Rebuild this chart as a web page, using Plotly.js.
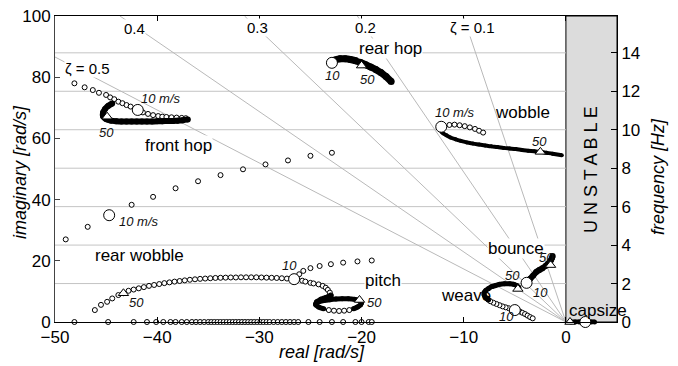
<!DOCTYPE html>
<html><head><meta charset="utf-8">
<script src="https://cdn.plot.ly/plotly-3.0.1.min.js"></script>
<style>html,body{margin:0;padding:0;background:#fff}#chart{width:678px;height:366px}</style>
</head><body><div id="chart"></div>
<script>
// ---------- data (real part, imaginary part in rad/s) ----------
const zetaValues = [0.5, 0.4, 0.3, 0.2, 0.1];
const zetaLabels = ['ζ = 0.5', '0.4', '0.3', '0.2', 'ζ = 0.1'];
const freqTicksHz = [0, 2, 4, 6, 8, 10, 12, 14];
const xTicks = [-50, -40, -30, -20, -10, 0];

const frontHopRe = [-48.1,-47.1,-46.3,-45.7,-45.0,-44.6,-44.2,-43.8,-43.4,-43.0,-42.6,-41.4,-40.9,-40.4,-39.9,-39.5,-39.1,-38.6,-38.1,-37.6,-37.2];
const frontHopIm = [78.0,76.7,75.8,74.9,74.2,73.4,72.8,72.0,71.5,70.9,70.4,68.5,68.0,67.6,67.3,67.1,67.0,66.9,66.8,66.7,66.6];
const frontHopDenseRe = [-37.0,-37.5,-38.0,-38.5,-39.0,-39.5,-40.0,-40.5,-41.0,-41.5,-42.0,-42.5,-43.0,-43.5,-44.0,-44.5,-45.0,-45.3,-45.3,-45.1,-44.8,-44.4];
const frontHopDenseIm = [66.2,65.9,65.8,65.7,65.7,65.6,65.6,65.5,65.5,65.5,65.5,65.5,65.5,65.5,65.6,65.8,66.3,67.2,68.4,69.6,70.6,71.4];

const rearHopRe = [-22.9,-22.6,-22.1,-21.6,-21.1,-20.6,-20.1,-19.6,-19.1,-18.6,-18.1,-17.6,-17.1];
const rearHopIm = [84.7,85.6,86.0,86.0,85.8,85.4,84.8,84.1,83.3,82.5,81.5,80.2,78.6];

const wobbleUpperRe = [-11.4,-10.9,-10.4,-9.9,-9.4,-8.9,-8.5,-8.1];
const wobbleUpperIm = [64.4,64.5,64.3,64.0,63.6,63.1,62.5,61.9];
const wobbleLowerRe = [-12.3,-12.1,-11.7,-11.3,-10.8,-10.3,-9.7,-9.1,-8.5,-7.9,-7.3,-6.7,-6.1,-5.5,-4.9,-4.3,-3.7,-3.1,-2.5,-1.9,-1.3,-0.4];
const wobbleLowerIm = [62.9,61.9,61.0,60.3,59.7,59.2,58.7,58.3,58.0,57.7,57.4,57.2,56.9,56.7,56.5,56.2,56.0,55.8,55.6,55.3,55.0,54.5];

const rearWobbleUpperRe = [-48.95,-46.8,-42.5,-40.4,-38.2,-36.0,-33.8,-31.6,-29.4,-27.2,-25.0,-22.9];
const rearWobbleUpperIm = [27.0,31.1,38.3,40.9,43.7,46.0,48.0,49.9,51.5,52.8,54.3,55.3];
const rearWobbleLowerRe = [-46.1,-45.5,-44.9,-44.4,-43.8,-43.3,-42.8,-42.3,-41.8,-41.3,-40.8,-40.3,-39.8,-39.3,-38.8,-38.3,-37.8,-37.3,-36.8,-36.3,-35.8,-35.3,-34.8,-34.3,-33.8,-33.3,-32.8,-32.3,-31.8,-31.3,-30.8,-30.3,-29.8,-29.3,-28.8,-28.3,-27.8,-27.3,-26.8];
const rearWobbleLowerIm = [3.9,5.6,6.6,7.7,8.8,9.4,10.2,10.6,11.0,11.4,11.8,12.1,12.4,12.7,12.95,13.2,13.4,13.6,13.8,13.95,14.1,14.2,14.3,14.4,14.45,14.5,14.55,14.55,14.6,14.6,14.6,14.6,14.55,14.5,14.45,14.4,14.3,14.2,14.1];

const lowBranchRe = [-26.1,-25.7,-25.0,-24.1,-23.0,-21.8,-20.4,-19.0];
const lowBranchIm = [15.6,16.7,17.6,18.3,18.9,19.4,19.8,20.1];

const pitchSRe = [-25.8,-25.5,-25.0,-24.7,-24.2,-23.8,-23.5,-23.3,-23.1,-23.0];
const pitchSIm = [13.5,13.2,12.8,12.6,12.3,11.8,11.2,10.5,9.6,8.7];
const pitchLoopRe = [-23.0,-23.5,-24.0,-24.4,-24.5,-24.2,-23.7];
const pitchLoopIm = [8.7,8.0,7.4,6.6,5.7,4.9,4.3];
const pitchBottomRe = [-23.2,-22.7,-22.2,-21.7,-21.2];
const pitchBottomIm = [3.9,3.7,3.6,3.7,3.9];
const pitchEndRe = [-20.8,-20.4,-20.1,-20.0,-20.2,-20.7,-21.3,-21.9,-22.5,-23.1,-23.7,-24.2];
const pitchEndIm = [4.3,4.9,5.6,6.3,7.0,7.4,7.6,7.6,7.5,7.3,7.0,6.6];

const realAxisRe = [-48.1,-44.8,-42.3,-41.0,-40.1,-39.4,-38.7,-38.2,-37.6,-37.1,-36.6,-36.2,-35.8,-35.4,-35.0,-34.7,-34.4,-34.1,-33.8,-33.5,-33.2,-32.9,-32.6,-32.3,-32.0,-31.7,-31.4,-31.1,-30.8,-30.5,-30.2,-29.9,-29.6,-29.3,-29.0,-28.6,-28.2,-27.8,-27.4,-27.0,-26.6,-26.2,-25.2,-24.1,-22.9,-21.8,-20.6,-20.0,-19.3,-19.0];
const realAxisIm = [0,0,0,0,0,0,0,0,0,0,0,0,0,0,0,0,0,0,0,0,0,0,0,0,0,0,0,0,0,0,0,0,0,0,0,0,0,0,0,0,0,0,0,0,0,0,0,0,0,0];

const weaveLowRe = [-4.5,-4.25,-4.0,-3.75,-3.5,-3.25];
const weaveLowIm = [3.4,3.0,2.6,2.1,1.6,1.2];
const weaveChainRe = [-5.3,-5.6,-5.9,-6.2,-6.5,-6.8,-7.1,-7.4,-7.6];
const weaveChainIm = [4.2,4.5,4.8,5.1,5.5,5.9,6.3,6.8,7.3];
const weaveArcRe = [-7.6,-7.85,-8.0,-8.0,-7.85,-7.6,-7.3,-6.9,-6.5,-6.0,-5.5,-5.1,-4.8,-4.6];
const weaveArcIm = [7.3,8.0,8.8,9.6,10.3,10.9,11.5,11.9,12.3,12.5,12.5,12.3,11.9,11.3];

const bounceRe = [-3.7,-3.5,-3.2,-2.9,-2.6,-2.3,-2.0,-1.8,-1.6,-1.45,-1.35,-1.3];
const bounceIm = [13.2,14.1,15.2,16.3,17.0,17.6,18.3,18.9,19.6,20.3,21.0,21.6];

const capsizeRe = [0.5,0.9,1.3,1.7,2.1,2.5,2.8];
const capsizeIm = [0,0,0,0,0,0,0];

// 10 m/s (large circles) and 50 m/s (triangles)
const speed10Re = [-41.9,-22.9,-12.2,-44.7,-26.6,-5.0,-3.85,1.9];
const speed10Im = [69.3,84.7,63.8,34.9,14.0,3.9,12.8,0];
const speed50Re = [-44.9,-20.0,-2.5,-43.3,-20.2,-4.7,-1.5,0.4];
const speed50Im = [67.1,83.8,55.6,9.4,7.2,10.8,18.6,0];

// ---------- traces ----------
const traces = [];
const base = {type:'scatter', showlegend:false, hoverinfo:'skip', cliponaxis:false};

// damping ratio lines from the origin to the frame edge
zetaValues.forEach(z => {
  const dx = -z, dy = Math.sqrt(1 - z*z);
  const t = Math.min(50 / z, 100 / dy);
  traces.push(Object.assign({}, base, {x:[0, dx*t], y:[0, dy*t], mode:'lines', cliponaxis:true,
    line:{color:'#b9b9b9', width:1}}));
});

function sparse(re, im) {
  traces.push(Object.assign({}, base, {x:re, y:im, mode:'markers',
    marker:{symbol:'circle', size:5, color:'#fff', line:{color:'#000', width:1}}}));
}
function dense(re, im, w) {
  traces.push(Object.assign({}, base, {x:re, y:im, mode:'lines+markers',
    line:{color:'#000', width:w, shape:'spline'},
    marker:{symbol:'circle', size:w, color:'#000', line:{width:0}}}));
}

sparse(realAxisRe, realAxisIm);
sparse(frontHopRe, frontHopIm);
dense(frontHopDenseRe, frontHopDenseIm, 6);
dense(rearHopRe, rearHopIm, 7);
sparse(wobbleUpperRe, wobbleUpperIm);
dense(wobbleLowerRe, wobbleLowerIm, 4);
sparse(rearWobbleUpperRe, rearWobbleUpperIm);
sparse(rearWobbleLowerRe, rearWobbleLowerIm);
sparse(lowBranchRe, lowBranchIm);
sparse(pitchSRe, pitchSIm);
dense(pitchLoopRe, pitchLoopIm, 5);
dense(pitchEndRe, pitchEndIm, 5);
sparse(pitchBottomRe, pitchBottomIm);
sparse(weaveLowRe, weaveLowIm);
sparse(weaveChainRe, weaveChainIm);
dense(weaveArcRe, weaveArcIm, 5);
dense(bounceRe, bounceIm, 6);
dense(capsizeRe, capsizeIm, 5);

traces.push(Object.assign({}, base, {x:speed10Re, y:speed10Im, mode:'markers',
  marker:{symbol:'circle', size:11, color:'#fff', line:{color:'#000', width:1}}}));
traces.push(Object.assign({}, base, {x:speed50Re, y:speed50Im, mode:'markers',
  marker:{symbol:'triangle-up', size:9, color:'#fff', line:{color:'#000', width:1}}}));
// invisible trace so the frequency axis is drawn
traces.push({type:'scatter', x:[null], y:[null], yaxis:'y2', showlegend:false, hoverinfo:'skip', mode:'markers'});

// ---------- layout ----------
const FONT = '"Liberation Sans", Arial, Helvetica, sans-serif';
const ann = [];
function lab(text, x, y, size, opts) {
  ann.push(Object.assign({text:text, x:x, y:y, xref:'x', yref:'y', showarrow:false,
    xanchor:'center', yanchor:'middle',
    font:{family:FONT, size:size, color:'#000'}, borderpad:0}, opts || {}));
}
const zetaPos = [[-46.8, 83.0], [-42.2, 95.8], [-30.2, 96.4], [-19.6, 96.4], [-9.1, 96.1]];
zetaLabels.forEach((t, i) => lab(t, zetaPos[i][0], zetaPos[i][1], 15, {bgcolor:'#fff'}));

lab('rear hop', -17.2, 89.5, 17, {bgcolor:'#fff'});
lab('front hop', -37.9, 57.6, 17, {bgcolor:'#fff'});
lab('wobble', -4.2, 68.6, 17);
lab('rear wobble', -41.7, 21.6, 17);
lab('pitch', -17.9, 13.5, 17, {bgcolor:'#fff'});
lab('bounce', -4.9, 24.1, 17, {bgcolor:'#fff'});
lab('weave', -9.8, 8.5, 17);
lab('capsize', 3.15, 3.7, 17);

function ital(text, x, y) {
  lab(text, x, y, 13, {font:{family:FONT, size:13, color:'#111', style:'italic'}});
}
ital('10 m/s', -39.6, 73.1);
ital('50', -45.0, 62.0);
ital('10', -22.8, 80.7);
ital('50', -19.4, 79.1);
ital('10 m/s', -10.9, 68.5);
ital('50', -2.6, 58.9);
ital('10 m/s', -41.8, 32.8);
ital('50', -42.0, 6.3);
ital('10', -27.1, 18.6);
ital('50', -18.7, 6.4);
ital('50', -5.2, 15.1);
ital('50', -1.9, 21.1);
ital('10', -2.5, 9.6);
ital('10', -5.8, 1.7);

ann.push({text:'U N S T A B L E', x:2.45, y:50, xref:'x', yref:'y', showarrow:false, textangle:-90,
  xanchor:'center', yanchor:'middle', font:{family:FONT, size:18, color:'#000'}});

// axis titles (paper coords relative to the plot area: 562 x 306 px, origin at 55,322)
const titleFont = {family:FONT, size:18, color:'#000', style:'italic'};
function ptitle(text, px, py, angle) {
  ann.push({text:text, x:(px-55)/562, y:(322-py)/306, xref:'paper', yref:'paper', showarrow:false,
    xanchor:'center', yanchor:'middle', textangle:angle, font:titleFont});
}
ptitle('real [rad/s]', 322, 352, 0);
ptitle('imaginary [rad/s]', 20, 172, -90);
ptitle('frequency [Hz]', 658, 177, -90);

const shapes = [];
// unstable region
shapes.push({type:'rect', xref:'x', yref:'y', x0:0, x1:5, y0:0, y1:100, fillcolor:'#dcdcdc',
  line:{color:'#000', width:1}, layer:'below'});
// frequency grid lines (stable side only)
freqTicksHz.filter(f => f > 0).forEach(f => shapes.push({type:'line', xref:'x', yref:'y2',
  x0:-50, x1:0, y0:f, y1:f, line:{color:'#c4c4c4', width:1}, layer:'below'}));

const layout = {
  width:678, height:366, margin:{l:55, r:61, t:16, b:44},
  paper_bgcolor:'#fff', plot_bgcolor:'rgba(0,0,0,0)',
  font:{family:FONT, size:17, color:'#000'},
  showlegend:false,
  xaxis:{range:[-50, 5], tickvals:xTicks, ticks:'inside', ticklen:5, tickcolor:'#000',
    showline:true, linecolor:'#000', linewidth:1, mirror:'ticks', showgrid:false, zeroline:false,
    tickfont:{family:FONT, size:17}},
  yaxis:{range:[0, 100], dtick:20, ticks:'inside', ticklen:5, tickcolor:'#444',
    showline:true, linecolor:'#444', linewidth:1, showgrid:false, zeroline:false,
    tickfont:{family:FONT, size:17}},
  yaxis2:{overlaying:'y', side:'right', range:[0, 100/(2*Math.PI)], tickvals:freqTicksHz,
    ticks:'inside', ticklen:6, tickcolor:'#000', showline:true, linecolor:'#000', linewidth:1,
    showgrid:false, zeroline:false, tickfont:{family:FONT, size:17}},
  shapes:shapes,
  annotations:ann
};

Plotly.newPlot('chart', traces, layout, {staticPlot:true, displayModeBar:false});
</script>
</body></html>
